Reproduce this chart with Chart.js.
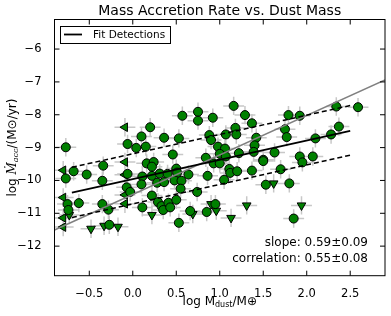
<!DOCTYPE html>
<html>
<head>
<meta charset="utf-8">
<script src="https://cdn.jsdelivr.net/npm/chart.js@4.4.0/dist/chart.umd.min.js"></script>
<style>
html, body { margin: 0; padding: 0; background: #fff; }
canvas { display: block; }
</style>
</head>
<body>
<canvas id="chart" width="391" height="316"></canvas>
<script>
// detections (circles)
var detX = [-0.77, -0.06, 0.04, 0.10, 0.15, 0.20, 0.36, 0.53, 0.57, 0.46,
            0.75, 0.75, 0.92, 0.88, 0.90, 0.98, 1.06, 1.07, 1.16, 1.18,
            1.19, 1.29, 1.37, 1.42, 1.40, 1.22, 1.39, 1.50, 0.84, 1.00,
            1.07, 1.63, 1.75, 1.77, 1.79, 1.92, 1.92, 2.07, 2.10, 2.28,
            2.37, 2.34, 2.59, -0.34, -0.68, -0.77, -0.53, -0.35, -0.06, -0.07,
            -0.03, 0.11, 0.10, 0.16, 0.24, 0.22, 0.22, 0.31, 0.40, 0.50,
            0.51, 0.48, 0.56, 0.55, 0.64, 0.74, 0.86, 0.28, 0.36, 0.22,
            0.29, 0.33, 0.35, 0.41, 0.43, 0.50, 0.11, 0.53, 0.66, 0.85,
            0.95, -0.62, -0.35, -0.28, -0.75, -0.74, -0.27, 0.93, 1.00, 1.11,
            1.12, 1.20, 1.05, 1.37, 1.50, 1.53, 1.70, 1.80, 1.95, 1.85];
var detY = [-8.99, -8.89, -9.01, -8.66, -8.97, -8.38, -8.70, -8.72, -8.03, -9.21,
            -7.91, -8.18, -8.09, -8.62, -8.77, -8.97, -9.03, -8.60, -7.73, -8.40,
            -8.60, -8.01, -8.26, -8.70, -8.93, -9.17, -9.13, -9.37, -9.31, -9.19,
            -9.27, -9.15, -8.44, -8.68, -8.01, -8.03, -9.27, -9.27, -8.72, -8.60,
            -8.36, -7.75, -7.77, -9.55, -9.72, -9.94, -9.82, -10.01, -9.80, -10.21,
            -10.35, -9.88, -10.12, -9.48, -9.44, -9.58, -9.86, -9.79, -9.80, -9.64,
            -9.76, -10.00, -10.01, -10.25, -9.82, -10.35, -9.86, -10.07, -10.05, -10.46,
            -10.66, -10.78, -10.90, -10.68, -10.82, -10.59, -10.82, -11.29, -10.93, -10.96,
            -10.72, -10.69, -10.72, -10.89, -10.72, -10.90, -11.35, -9.48, -9.48, -9.65,
            -9.77, -9.72, -9.98, -9.70, -9.41, -10.13, -9.66, -10.09, -9.45, -11.16];

// upper limits in accretion rate (down triangles)
var limAccX = [-0.73, -0.48, -0.33, -0.17, 0.22, 0.69, 0.90, 0.96, 1.13, 1.31, 1.62, 1.94];
var limAccY = [-11.05, -11.47, -11.38, -11.41, -11.05, -11.02, -10.72, -10.92, -11.14, -10.76, -10.09, -10.76];

// upper limits in dust mass (left triangles)
var limDustX = [-0.09, -0.80, -0.09, -0.09, -0.09, -0.09, -0.80, -0.80, -0.80];
var limDustY = [-8.38, -9.69, -9.44, -9.83, -10.44, -10.71, -10.52, -11.14, -11.42];

// fit lines
var fitX = [-0.7, 2.5];
var fitY = [-10.37, -8.49];
var fitHiY = [-9.60, -7.72];
var fitLoY = [-11.13, -9.23];
var grayX = [-0.9, 2.9];
var grayY = [-11.51, -6.94];

var xTicks = [-0.5, 0, 0.5, 1, 1.5, 2, 2.5];
var yTicks = [-12, -11, -10, -9, -8, -7, -6];
var xErr = 0.12, yErr = 0.28;

var FONT = '"DejaVu Sans", sans-serif';
var green = '#008000';

function pts(xs, ys) {
    return xs.map(function (x, i) { return { x: x, y: ys[i] }; });
}
function minus(v, d) {
    return v.toFixed(d).replace('-', '\u2212');
}

// draws a row of text pieces (for sub-scripts)
function richText(ctx, parts, cx, cy) {
    var w = 0;
    parts.forEach(function (p) { ctx.font = p.f; w += ctx.measureText(p.t).width; });
    var x = cx - w / 2;
    ctx.textAlign = 'left';
    ctx.textBaseline = 'alphabetic';
    parts.forEach(function (p) {
        ctx.font = p.f;
        ctx.fillText(p.t, x, cy + (p.dy || 0));
        x += ctx.measureText(p.t).width;
    });
}

var errorBars = {
    id: 'errorBars',
    beforeDatasetsDraw: function (chart) {
        var ctx = chart.ctx, xs = chart.scales.x, ys = chart.scales.y, a = chart.chartArea;
        ctx.save();
        ctx.beginPath();
        ctx.rect(a.left, a.top, a.right - a.left, a.bottom - a.top);
        ctx.clip();
        ctx.strokeStyle = '#c8c8c8';
        ctx.lineWidth = 1.5;
        ctx.beginPath();
        [[detX, detY], [limAccX, limAccY], [limDustX, limDustY]].forEach(function (g) {
            for (var i = 0; i < g[0].length; i++) {
                var px = xs.getPixelForValue(g[0][i]), py = ys.getPixelForValue(g[1][i]);
                ctx.moveTo(xs.getPixelForValue(g[0][i] - xErr), py);
                ctx.lineTo(xs.getPixelForValue(g[0][i] + xErr), py);
                ctx.moveTo(px, ys.getPixelForValue(g[1][i] - yErr));
                ctx.lineTo(px, ys.getPixelForValue(g[1][i] + yErr));
            }
        });
        ctx.stroke();
        ctx.restore();
    }
};

var decor = {
    id: 'decor',
    afterDatasetsDraw: function (chart) {
        var ctx = chart.ctx, xs = chart.scales.x, ys = chart.scales.y, a = chart.chartArea;
        ctx.save();
        // frame
        ctx.strokeStyle = '#000';
        ctx.lineWidth = 1;
        ctx.strokeRect(a.left, a.top, a.right - a.left, a.bottom - a.top);
        // inward ticks on all four sides
        ctx.beginPath();
        xTicks.forEach(function (v) {
            var p = xs.getPixelForValue(v);
            ctx.moveTo(p, a.bottom); ctx.lineTo(p, a.bottom - 5);
            ctx.moveTo(p, a.top); ctx.lineTo(p, a.top + 5);
        });
        yTicks.forEach(function (v) {
            var p = ys.getPixelForValue(v);
            ctx.moveTo(a.left, p); ctx.lineTo(a.left + 5, p);
            ctx.moveTo(a.right, p); ctx.lineTo(a.right - 5, p);
        });
        ctx.stroke();

        // legend
        ctx.fillStyle = '#fff';
        ctx.fillRect(60, 26, 110, 17);
        ctx.strokeRect(60.5, 26.5, 110, 17);
        ctx.beginPath();
        ctx.lineWidth = 1.8;
        ctx.moveTo(64, 34.5); ctx.lineTo(82, 34.5);
        ctx.stroke();
        ctx.fillStyle = '#000';
        ctx.font = '10.5px ' + FONT;
        ctx.textAlign = 'left';
        ctx.textBaseline = 'middle';
        ctx.fillText('Fit Detections', 93, 35);

        // fit statistics
        ctx.font = '12px ' + FONT;
        ctx.textAlign = 'right';
        ctx.fillText('slope: 0.59\u00b10.09', 368, 243);
        ctx.fillText('correlation: 0.55\u00b10.08', 368, 259);

        // title
        ctx.font = '14px ' + FONT;
        ctx.textAlign = 'center';
        ctx.fillText('Mass Accretion Rate vs. Dust Mass', (a.left + a.right) / 2, 11);

        // x axis label
        var cx = (a.left + a.right) / 2;
        richText(ctx, [
            { t: 'log M', f: '12px ' + FONT },
            { t: 'dust', f: '8px ' + FONT, dy: 2 },
            { t: '/M\u2295', f: '12px ' + FONT }
        ], cx, 305);

        // y axis label
        ctx.translate(16, (a.top + a.bottom) / 2);
        ctx.rotate(-Math.PI / 2);
        richText(ctx, [
            { t: 'log ', f: '12px ' + FONT },
            { t: '\u1e40', f: 'italic 12px "DejaVu Serif", serif' },
            { t: 'acc', f: 'italic 8px "DejaVu Serif", serif', dy: 2 },
            { t: '/(M\u2299/yr)', f: '12px ' + FONT }
        ], 0, 0);
        ctx.restore();
    }
};

new Chart(document.getElementById('chart'), {
    type: 'scatter',
    data: {
        datasets: [
            { label: 'Fit Detections', data: pts(fitX, fitY), showLine: true, borderColor: '#000', borderWidth: 1.8, pointRadius: 0, order: 0 },
            { label: 'upper', data: pts(fitX, fitHiY), showLine: true, borderColor: '#000', borderWidth: 1.5, borderDash: [5, 3], pointRadius: 0, order: 0 },
            { label: 'lower', data: pts(fitX, fitLoY), showLine: true, borderColor: '#000', borderWidth: 1.5, borderDash: [5, 3], pointRadius: 0, order: 0 },
            { label: 'all', data: pts(grayX, grayY), showLine: true, borderColor: '#808080', borderWidth: 1.5, pointRadius: 0, order: 0 },
            { label: 'detections', data: pts(detX, detY), pointStyle: 'circle', pointRadius: 4.5, backgroundColor: green, borderColor: '#000', borderWidth: 1, order: 1 },
            { label: 'acc limits', data: pts(limAccX, limAccY), pointStyle: 'triangle', rotation: 180, pointRadius: 5, backgroundColor: green, borderColor: '#000', borderWidth: 1, order: 1 },
            { label: 'dust limits', data: pts(limDustX, limDustY), pointStyle: 'triangle', rotation: 270, pointRadius: 5, backgroundColor: green, borderColor: '#000', borderWidth: 1, order: 1 }
        ]
    },
    options: {
        responsive: false,
        animation: false,
        devicePixelRatio: 1,
        layout: { padding: { top: 19.5, right: 5, left: 0, bottom: 0 } },
        plugins: { legend: { display: false }, tooltip: { enabled: false } },
        scales: {
            x: {
                type: 'linear', min: -0.9, max: 2.9,
                grid: { display: false }, border: { display: false },
                afterBuildTicks: function (s) { s.ticks = xTicks.map(function (v) { return { value: v }; }); },
                afterFit: function (s) { s.height = 40.3; },
                ticks: { padding: 3, color: '#000', font: { family: 'DejaVu Sans', size: 11.5 },
                         maxRotation: 0, callback: function (v) { return minus(v, 1); } }
            },
            y: {
                type: 'linear', min: -12.9, max: -5.1,
                grid: { display: false }, border: { display: false },
                afterBuildTicks: function (s) { s.ticks = yTicks.map(function (v) { return { value: v }; }); },
                afterFit: function (s) { s.width = 54.5; },
                ticks: { padding: 5, color: '#000', font: { family: 'DejaVu Sans', size: 11.5 },
                         callback: function (v) { return minus(v, 0); } }
            }
        }
    },
    plugins: [errorBars, decor]
});
</script>
</body>
</html>
